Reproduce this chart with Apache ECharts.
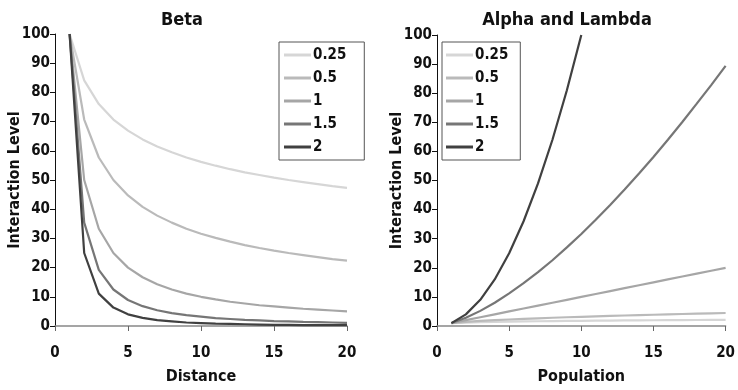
<!DOCTYPE html>
<html>
<head>
<meta charset="utf-8">
<script src="https://cdn.jsdelivr.net/npm/echarts@6/dist/echarts.min.js"></script>
<style>
html,body{margin:0;padding:0;background:#fff;}
#c{width:738px;height:390px;}
</style>
</head>
<body>
<div id="c"></div>
<script>
// x values (distance / population)
var xValues = [1,2,3,4,5,6,7,8,9,10,11,12,13,14,15,16,17,18,19,20];
var seriesNames = ['0.25','0.5','1','1.5','2'];
var seriesColors = ['#d6d6d6','#bababa','#a6a6a6','#767676','#404040'];

// Beta chart: interaction level vs distance
var beta025 = [100,84.1,76.0,70.7,66.9,63.9,61.5,59.5,57.7,56.2,54.9,53.7,52.6,51.7,50.8,50.0,49.3,48.6,47.9,47.3];
var beta05  = [100,70.7,57.7,50.0,44.7,40.8,37.8,35.4,33.3,31.6,30.2,28.9,27.7,26.7,25.8,25.0,24.3,23.6,22.9,22.4];
var beta1   = [100,50,33.3,25,20,16.7,14.3,12.5,11.1,10,9.1,8.3,7.7,7.1,6.7,6.3,5.9,5.6,5.3,5.0];
var beta15  = [100,35.4,19.2,12.5,8.9,6.8,5.4,4.4,3.7,3.2,2.7,2.4,2.1,1.9,1.7,1.6,1.4,1.3,1.2,1.1];
var beta2   = [100,25,11.1,6.3,4.0,2.8,2.0,1.6,1.2,1.0,0.8,0.7,0.6,0.5,0.4,0.4,0.3,0.3,0.3,0.3];

// Alpha and Lambda chart: interaction level vs population
var lam025 = [1,1.19,1.32,1.41,1.50,1.57,1.63,1.68,1.73,1.78,1.82,1.86,1.90,1.93,1.97,2.0,2.03,2.06,2.09,2.11];
var lam05  = [1,1.41,1.73,2,2.24,2.45,2.65,2.83,3,3.16,3.32,3.46,3.61,3.74,3.87,4,4.12,4.24,4.36,4.47];
var lam1   = [1,2,3,4,5,6,7,8,9,10,11,12,13,14,15,16,17,18,19,20];
var lam15  = [1,2.83,5.2,8,11.2,14.7,18.5,22.6,27,31.6,36.5,41.6,46.9,52.4,58.1,64,70.1,76.4,82.8,89.4];
var lam2   = [1,4,9,16,25,36,49,64,81,100];

var xTicks = [0,5,10,15,20];
var yTicks = [0,10,20,30,40,50,60,70,80,90,100];

var FONT = '"Liberation Sans Narrow", "DejaVu Sans Condensed", Arial, sans-serif';

function pairs(ys){ return ys.map(function(y,i){ return [xValues[i], y]; }); }

var betaData = [beta025, beta05, beta1, beta15, beta2];
var lamData = [lam025, lam05, lam1, lam15, lam2];

function xAxis(idx, name){
  return {
    gridIndex: idx, type:'value', min:0, max:20, interval:5,
    name:name, nameLocation:'middle', nameGap:43, nameMoveOverlap:false,
    nameTextStyle:{fontFamily:FONT, fontWeight:'bold', fontSize:16, color:'#111'},
    axisLine:{show:true, onZero:false, lineStyle:{color:'#888', width:1.5}},
    axisTick:{show:true, length:5, lineStyle:{color:'#666'}},
    axisLabel:{margin:20, fontFamily:FONT, fontWeight:'bold', fontSize:15, color:'#111',
      formatter:function(v){ return xTicks.indexOf(v)>=0 ? String(v) : ''; }},
    splitLine:{show:false}
  };
}
function yAxis(idx){
  return {
    gridIndex: idx, type:'value', min:0, max:100, interval:10,
    name:'Interaction Level', nameLocation:'middle', nameGap:32, nameMoveOverlap:false,
    nameTextStyle:{fontFamily:FONT, fontWeight:'bold', fontSize:16, color:'#111'},
    axisLine:{show:true, lineStyle:{color:'#111', width:1}},
    axisTick:{show:true, length:5, lineStyle:{color:'#111'}},
    axisLabel:{margin:5, fontFamily:FONT, fontWeight:'bold', fontSize:15, color:'#111',
      formatter:function(v){ return yTicks.indexOf(v)>=0 ? String(v) : ''; }},
    splitLine:{show:false}
  };
}

var series = [];
seriesNames.forEach(function(n,i){
  series.push({name:n, type:'line', xAxisIndex:0, yAxisIndex:0, data:pairs(betaData[i]),
    showSymbol:false, symbol:'none', lineStyle:{width:2.2, color:seriesColors[i]}, itemStyle:{color:seriesColors[i]}, z:2+i, animation:false});
});
seriesNames.forEach(function(n,i){
  series.push({name:n, type:'line', xAxisIndex:1, yAxisIndex:1, data:pairs(lamData[i]),
    showSymbol:false, symbol:'none', lineStyle:{width:2.2, color:seriesColors[i]}, itemStyle:{color:seriesColors[i]}, z:2+i, animation:false});
});

function legend(left, top, padding){
  return {
    data:seriesNames, orient:'vertical', left:left, top:top,
    icon:'rect', itemWidth:27, itemHeight:3, itemGap:7,
    padding:padding, borderColor:'#555', borderWidth:1, borderRadius:0,
    selectedMode:false,
    textStyle:{fontFamily:FONT, fontWeight:'bold', fontSize:15, color:'#111', lineHeight:16, padding:[0,0,0,-3]}
  };
}

var chart = echarts.init(document.getElementById('c'), null, {renderer:'canvas'});
chart.setOption({
  backgroundColor:'#fff',
  animation:false,
  title:[
    {text:'Beta', left:177, top:6, textAlign:'center', textStyle:{fontFamily:FONT, fontWeight:'bold', fontSize:18, color:'#111'}},
    {text:'Alpha and Lambda', left:562, top:6, textAlign:'center', textStyle:{fontFamily:FONT, fontWeight:'bold', fontSize:18, color:'#111'}}
  ],
  legend:[ legend(279, 42, [5,18,5,5]), legend(442, 42, [5,12,5,4]) ],
  grid:[
    {left:55, top:34, width:292, height:292},
    {left:437, top:35, width:292, height:293}
  ],
  xAxis:[ xAxis(0,'Distance'), xAxis(1,'Population') ],
  yAxis:[ yAxis(0), yAxis(1) ],
  series:series
});
</script>
</body>
</html>
